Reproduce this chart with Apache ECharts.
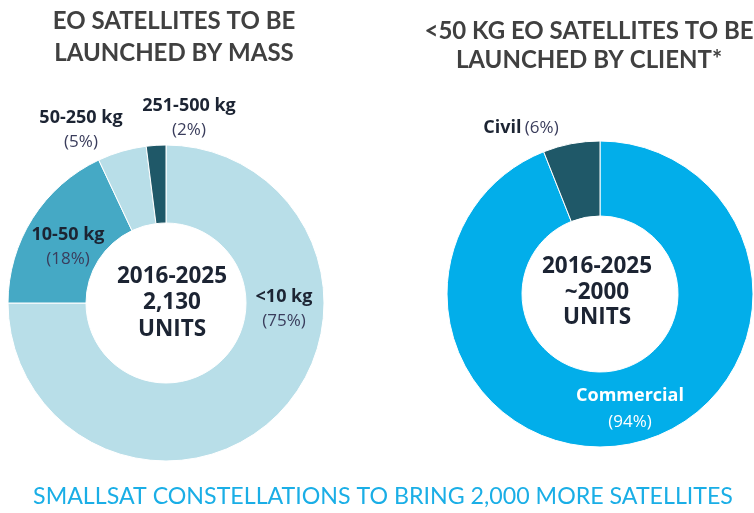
<!DOCTYPE html>
<html>
<head>
<meta charset="utf-8">
<script src="https://cdn.jsdelivr.net/npm/echarts@6/dist/echarts.min.js"></script>
<style>
  html, body { margin: 0; padding: 0; background: #fff; }
  #main { width: 754px; height: 513px; }
</style>
</head>
<body>
<div id="main"></div>
<script>
// EO satellites to be launched by mass (share, %)
const massCategories = ["<10 kg", "10-50 kg", "50-250 kg", "251-500 kg"];
const massShares = [75, 18, 5, 2];
const massColors = ["#b8dee8", "#45a9c5", "#b8dee8", "#1f5868"];

// <50 kg EO satellites by client (share, %)
const clientCategories = ["Commercial", "Civil"];
const clientShares = [94, 6];
const clientColors = ["#02aeea", "#1f5868"];

// where each slice label sits (pixels)
const massLabelPos = [[284, 309], [68, 247], [81, 130], [189, 118]];
const clientLabelPos = [[630, 409], [521, 128]];

const titleFont = "Lato";
const font = "Open Sans";
const dark = "#1c2433";

let chart = echarts.init(document.getElementById("main"));

function pieData(names, values, colors) {
    return names.map((n, i) => ({
        name: n,
        value: values[i],
        itemStyle: { color: colors[i] },
    }));
}

let options = {
    animation: false,
    graphic: [
        {
            type: "text", x: 174, y: 5,
            style: {
                text: "EO SATELLITES TO BE\nLAUNCHED BY MASS",
                align: "center", verticalAlign: "top",
                fontFamily: titleFont, fontWeight: "bold", fontSize: 24,
                lineHeight: 32, fill: "#404040",
            },
        },
        {
            type: "text", x: 589, y: 17,
            style: {
                text: "<50 KG EO SATELLITES TO BE\nLAUNCHED BY CLIENT*",
                align: "center", verticalAlign: "top",
                fontFamily: titleFont, fontWeight: "bold", fontSize: 24,
                lineHeight: 29, fill: "#404040",
            },
        },
        {
            type: "text", x: 172, y: 263,
            style: {
                text: "2016-2025\n2,130\nUNITS",
                align: "center", verticalAlign: "top",
                fontFamily: font, fontWeight: "bold", fontSize: 22.5,
                lineHeight: 26.5, fill: dark,
            },
        },
        {
            type: "text", x: 597, y: 254,
            style: {
                text: "2016-2025\n~2000\nUNITS",
                align: "center", verticalAlign: "top",
                fontFamily: font, fontWeight: "bold", fontSize: 22.5,
                lineHeight: 25.5, fill: dark,
            },
        },
        {
            type: "text", x: 383, y: 497,
            style: {
                text: "SMALLSAT CONSTELLATIONS TO BRING 2,000 MORE SATELLITES",
                align: "center", verticalAlign: "middle",
                fontFamily: titleFont, fontSize: 23.2, fill: "#1aaee6",
            },
        },
    ],
    series: [
        {
            type: "pie",
            center: [166, 303],
            radius: [80, 158],
            startAngle: 90,
            clockwise: true,
            itemStyle: { borderColor: "#fff", borderWidth: 1 },
            label: {
                show: true,
                position: "inside",
                overflow: "none",
                formatter: (p) => "{b|" + p.name + "}\n{p|(" + p.value + "%)}",
                rich: {
                    b: { fontFamily: font, fontWeight: "bold", fontSize: 18, color: dark, lineHeight: 24, align: "center" },
                    p: { fontFamily: font, fontSize: 17, color: "#3a3d5c", lineHeight: 24, align: "center" },
                },
            },
            labelLine: { show: false },
            labelLayout: (p) => ({
                x: massLabelPos[p.dataIndex][0],
                y: massLabelPos[p.dataIndex][1],
                align: "center",
                verticalAlign: "middle",
            }),
            emphasis: { disabled: true },
            data: pieData(massCategories, massShares, massColors),
        },
        {
            type: "pie",
            center: [600, 294],
            radius: [78, 153],
            startAngle: 90,
            clockwise: true,
            itemStyle: { borderColor: "#fff", borderWidth: 1 },
            label: {
                show: true,
                position: "inside",
                overflow: "none",
                formatter: (p) =>
                    p.dataIndex === 0
                        ? "{w|" + p.name + "}\n{wp|(" + p.value + "%)}"
                        : "{b|" + p.name + "} {p|(" + p.value + "%)}",
                rich: {
                    b: { fontFamily: font, fontWeight: "bold", fontSize: 18, color: dark },
                    p: { fontFamily: font, fontSize: 17, color: "#3a3d5c" },
                    w: { fontFamily: font, fontWeight: "bold", fontSize: 18, color: "#fff", lineHeight: 26, align: "center" },
                    wp: { fontFamily: font, fontSize: 17, color: "#fff", lineHeight: 26, align: "center" },
                },
            },
            labelLine: { show: false },
            labelLayout: (p) => ({
                x: clientLabelPos[p.dataIndex][0],
                y: clientLabelPos[p.dataIndex][1],
                align: "center",
                verticalAlign: "middle",
            }),
            emphasis: { disabled: true },
            data: pieData(clientCategories, clientShares, clientColors),
        },
    ],
};
chart.setOption(options);
</script>
</body>
</html>
